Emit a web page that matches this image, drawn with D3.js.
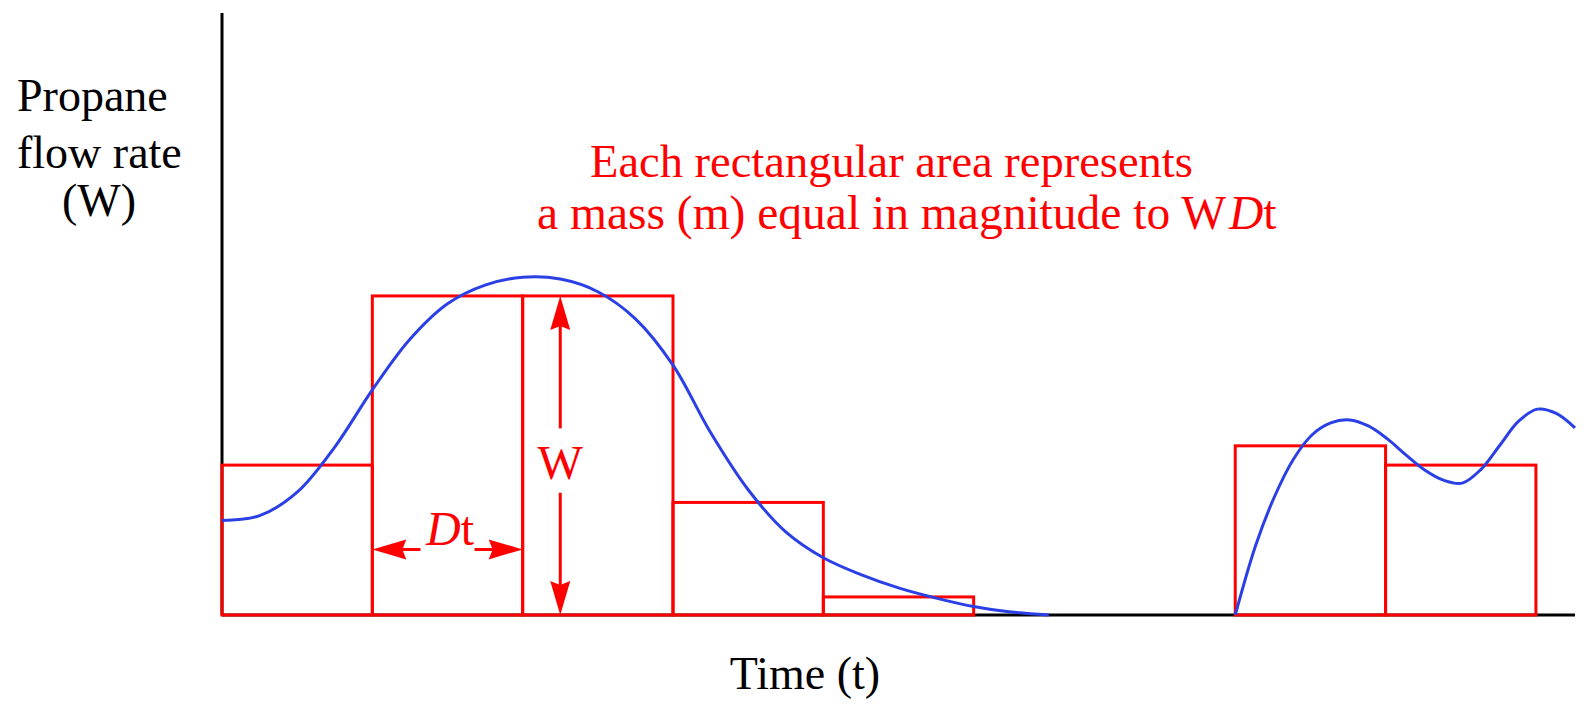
<!DOCTYPE html>
<html>
<head>
<meta charset="utf-8">
<script src="https://cdn.jsdelivr.net/npm/d3@7"></script>
<style>
  body { margin: 0; background: #fff; }
</style>
</head>
<body>
<div id="chart"></div>
<script>
//data (time in units of Dt, flow rate in arbitrary units)
var stepStarts  = [0, 1, 2, 3, 4, 6.74, 7.74];
var stepHeights = [2.49, 5.30, 5.30, 1.87, 0.30, 2.81, 2.49];
var stepWidth = 1;

// first pulse of the flow curve
var pulseTime = [0, 0.25, 0.5, 0.75, 1.0, 1.25, 1.5, 1.75, 2.0, 2.25, 2.5, 2.75, 3.0, 3.25, 3.5, 3.75, 4.0, 4.25, 4.5, 4.75, 5.0, 5.25, 5.5];
var pulseRate = [1.57, 1.65, 2.04, 2.79, 3.74, 4.58, 5.17, 5.48, 5.61, 5.58, 5.37, 4.92, 4.15, 3.03, 2.08, 1.38, 0.95, 0.67, 0.45, 0.28, 0.14, 0.05, 0];

// second burst of the flow curve
var burstTime = [6.74, 6.875, 7.0, 7.125, 7.25, 7.375, 7.5, 7.625, 7.75, 7.875, 8.0, 8.125, 8.25, 8.375, 8.5, 8.625, 8.75, 8.875, 9.0];
var burstRate = [0, 1.15, 1.96, 2.58, 2.99, 3.19, 3.24, 3.14, 2.93, 2.66, 2.41, 2.24, 2.19, 2.42, 2.82, 3.22, 3.42, 3.35, 3.11];

//dims
var width = 1588;
var height = 713;

var x = d3.scaleLinear().domain([0, 9]).range([222, 1575]);
var y = d3.scaleLinear().domain([0, 10]).range([615, 13]);

var red = '#ff0000';
var blue = '#2a40e6';
var serif = '"Liberation Serif", "Times New Roman", Times, serif';

var svg = d3.select('#chart')
  .append('svg')
  .attr('width', width)
  .attr('height', height)
  .attr('font-family', serif);

//axes (no ticks)
svg.append('line')
  .attr('x1', x(0)).attr('x2', x(0))
  .attr('y1', y(10)).attr('y2', y(0))
  .attr('stroke', '#000').attr('stroke-width', 3);

svg.append('line')
  .attr('x1', x(0)).attr('x2', x(9))
  .attr('y1', y(0)).attr('y2', y(0))
  .attr('stroke', '#000').attr('stroke-width', 3);

//rectangles
svg.selectAll('rect.step')
  .data(stepStarts)
  .enter()
  .append('rect')
  .attr('class', 'step')
  .attr('x', function(d) { return x(d); })
  .attr('y', function(d, i) { return y(stepHeights[i]); })
  .attr('width', function(d) { return x(d + stepWidth) - x(d); })
  .attr('height', function(d, i) { return y(0) - y(stepHeights[i]); })
  .attr('fill', 'none')
  .attr('stroke', red)
  .attr('stroke-width', 3);

//flow curve
var line = d3.line()
  .x(function(d) { return x(d[0]); })
  .y(function(d) { return Math.min(y(d[1]), y(0)); })
  .curve(d3.curveCatmullRom.alpha(0.5));

[[pulseTime, pulseRate], [burstTime, burstRate]].forEach(function(s) {
  svg.append('path')
    .datum(d3.zip(s[0], s[1]))
    .attr('d', line)
    .attr('fill', 'none')
    .attr('stroke', blue)
    .attr('stroke-width', 3);
});

// arrowhead: tip at (tx, ty), pointing along angle (deg)
function arrowHead(tx, ty, angle) {
  var L = 34, w = 10, n = 30;
  svg.append('path')
    .attr('d', 'M0,0 L' + (-L) + ',' + (-w) + ' L' + (-n) + ',0 L' + (-L) + ',' + w + ' Z')
    .attr('transform', 'translate(' + tx + ',' + ty + ') rotate(' + angle + ')')
    .attr('fill', red);
}

function shaft(x1, y1, x2, y2) {
  svg.append('line')
    .attr('x1', x1).attr('y1', y1).attr('x2', x2).attr('y2', y2)
    .attr('stroke', red).attr('stroke-width', 3);
}

//W dimension (on third rectangle)
var wx = x(2.25);
shaft(wx, y(5.30) + 10, wx, y(3.10));
shaft(wx, y(2.03), wx, y(0) - 10);
arrowHead(wx, y(5.30), -90);
arrowHead(wx, y(0), 90);

svg.append('text')
  .attr('x', wx).attr('y', 479)
  .attr('text-anchor', 'middle')
  .attr('fill', red)
  .attr('font-size', 48)
  .text('W');

//Dt dimension (on second rectangle)
var dy = y(1.09);
shaft(x(1) + 10, dy, x(1.32), dy);
shaft(x(1.68), dy, x(2) - 10, dy);
arrowHead(x(1), dy, 180);
arrowHead(x(2), dy, 0);

var dt = svg.append('text')
  .attr('x', 450).attr('y', 545)
  .attr('text-anchor', 'middle')
  .attr('fill', red)
  .attr('font-size', 48);
dt.append('tspan').attr('font-style', 'italic').text('D');
dt.append('tspan').text('t');

//annotation
svg.append('text')
  .attr('x', 590).attr('y', 177)
  .attr('fill', red)
  .attr('font-size', 46.5)
  .text('Each rectangular area represents');

var note = svg.append('text')
  .attr('x', 537).attr('y', 229)
  .attr('fill', red)
  .attr('font-size', 47.5);
note.append('tspan').text('a mass (m) equal in magnitude to W');
note.append('tspan').attr('font-style', 'italic').attr('dx', 3).text('D');
note.append('tspan').text('t');

//axis labels
svg.append('text')
  .attr('x', 17).attr('y', 111)
  .attr('font-size', 46)
  .text('Propane');
svg.append('text')
  .attr('x', 17).attr('y', 168)
  .attr('font-size', 46)
  .text('flow rate');
svg.append('text')
  .attr('x', 99).attr('y', 216)
  .attr('text-anchor', 'middle')
  .attr('font-size', 46)
  .text('(W)');

svg.append('text')
  .attr('x', 805).attr('y', 689)
  .attr('text-anchor', 'middle')
  .attr('font-size', 46)
  .text('Time (t)');
</script>
</body>
</html>
